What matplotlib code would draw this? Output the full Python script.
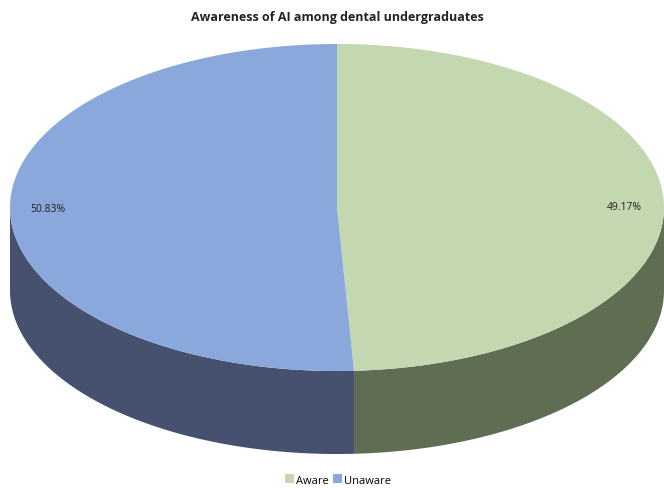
import numpy as np
import matplotlib.pyplot as plt
from matplotlib.patches import Polygon, Patch

# data
labels = ['Aware', 'Unaware']
values = [49.17, 50.83]
top_colors = ['#c3d7b0', '#8aa8dc']
side_colors = ['#5f6e52', '#45516e']

plt.rcParams['font.family'] = ['Open Sans', 'DejaVu Sans']

fig = plt.figure(figsize=(6.64, 4.89), dpi=100)
ax = fig.add_axes([0, 0, 1, 1])
ax.set_xlim(0, 664)
ax.set_ylim(489, 0)
ax.axis('off')

# ellipse geometry (pixel units)
cx, cy = 337, 208.5
a, b = 327, 163.5
depth = 83


def pt(theta, dy=0):
    return cx + a * np.sin(theta), cy - b * np.cos(theta) + dy


fracs = np.array(values) / sum(values)
starts = np.concatenate([[0], np.cumsum(fracs)[:-1]]) * 2 * np.pi
ends = np.cumsum(fracs) * 2 * np.pi

# side walls (front half only)
for s, e, c in zip(starts, ends, side_colors):
    lo, hi = max(s, np.pi / 2), min(e, 3 * np.pi / 2)
    if hi <= lo:
        continue
    th = np.linspace(lo, hi, 200)
    x, y = pt(th)
    xs = np.concatenate([x, x[::-1]])
    ys = np.concatenate([y, (y + depth)[::-1]])
    ax.add_patch(Polygon(np.column_stack([xs, ys]), closed=True, fc=c, ec='none'))

# top faces
for s, e, c in zip(starts, ends, top_colors):
    th = np.linspace(s, e, 300)
    x, y = pt(th)
    xs = np.concatenate([[cx], x])
    ys = np.concatenate([[cy], y])
    ax.add_patch(Polygon(np.column_stack([xs, ys]), closed=True, fc=c, ec='none'))

# percentage labels
ax.text(624, 207, '{:.2f}%'.format(values[0]), ha='center', va='center', fontsize=7.5, color='#222222')
ax.text(48, 210, '{:.2f}%'.format(values[1]), ha='center', va='center', fontsize=7.5, color='#222222')

ax.text(337, 17, 'Awareness of AI among dental undergraduates', ha='center', va='center',
        fontsize=9, fontweight='bold', color='#222222')

handles = [Patch(fc=c, ec='none') for c in top_colors]
fig.legend(handles, labels, loc='center', bbox_to_anchor=(338 / 664, 1 - 481 / 489), ncol=2,
           frameon=False, fontsize=8, handlelength=0.8, handleheight=0.8, handletextpad=0.15,
           columnspacing=0.4, borderpad=0.1)

fig.savefig('out.png', dpi=100)
